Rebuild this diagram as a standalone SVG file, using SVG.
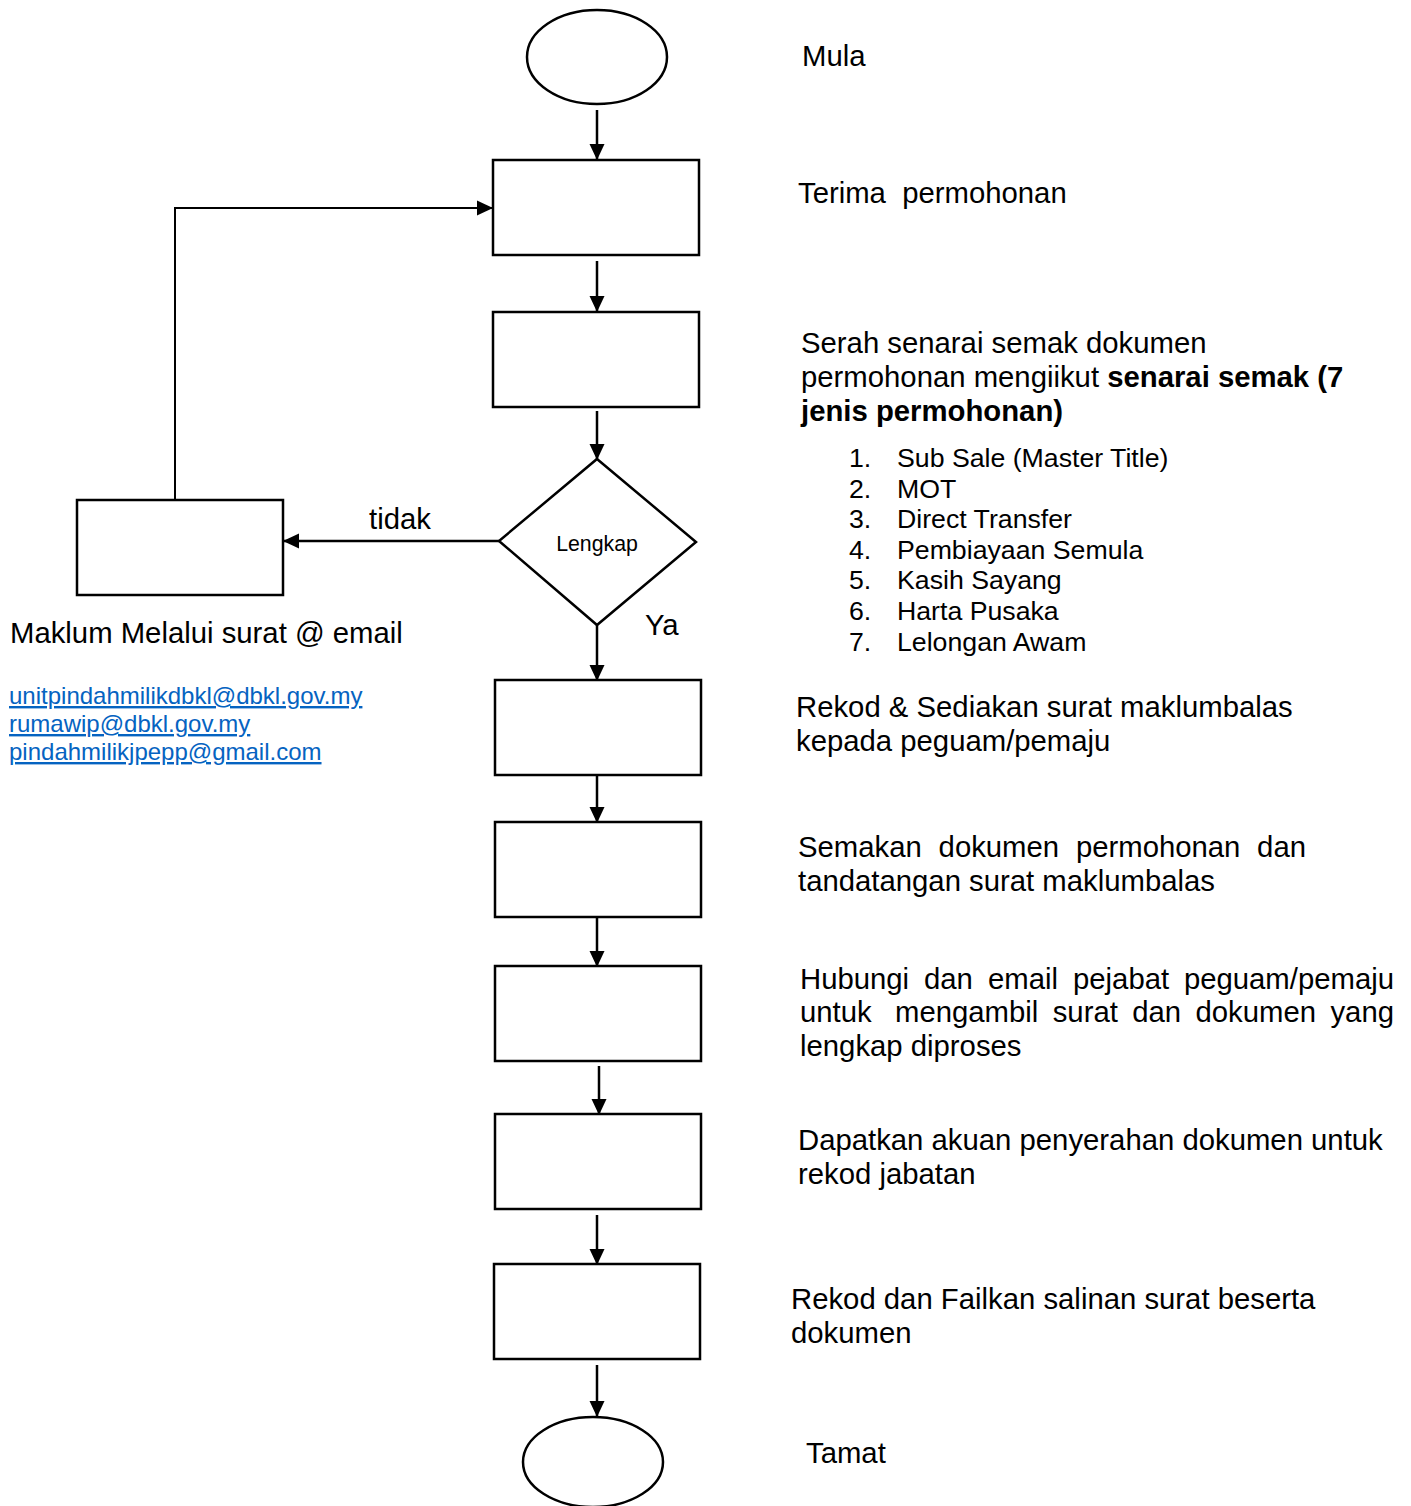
<svg xmlns="http://www.w3.org/2000/svg" width="1411" height="1506" viewBox="0 0 1411 1506">
<style>
.n{fill:#fff;stroke:#000;stroke-width:2.5}
.c{fill:none;stroke:#000;stroke-width:2.5}
.thin{stroke-width:2}
text{font-family:"Liberation Sans",Arial,sans-serif;fill:#000}
.t{font-size:29.3px}
.l{font-size:26.7px}
.s{font-size:21.3px}
.e{font-size:24px;fill:#0563C1;text-decoration:underline}
.b{font-weight:bold}
.r{text-anchor:end}
</style>
<defs>
<marker id="ah" markerUnits="userSpaceOnUse" markerWidth="16" markerHeight="16" viewBox="0 0 16 16" refX="15" refY="8" orient="auto">
<path d="M0,0.5 L16,8 L0,15.5 Z" fill="#000"/>
</marker>
</defs>
<rect width="1411" height="1506" fill="#fff"/>
<g id="connectors">
<line class="c" x1="597" y1="110" x2="597" y2="159" marker-end="url(#ah)"/>
<line class="c" x1="597" y1="261" x2="597" y2="311" marker-end="url(#ah)"/>
<line class="c" x1="597" y1="411" x2="597" y2="459" marker-end="url(#ah)"/>
<line class="c" x1="499" y1="541" x2="284" y2="541" marker-end="url(#ah)"/>
<polyline class="c thin" points="175,500 175,208 492,208" marker-end="url(#ah)"/>
<line class="c" x1="597" y1="625" x2="597" y2="680" marker-end="url(#ah)"/>
<line class="c" x1="597" y1="775" x2="597" y2="822" marker-end="url(#ah)"/>
<line class="c" x1="597" y1="917" x2="597" y2="966" marker-end="url(#ah)"/>
<line class="c" x1="599" y1="1066" x2="599" y2="1114" marker-end="url(#ah)"/>
<line class="c" x1="597" y1="1215" x2="597" y2="1264" marker-end="url(#ah)"/>
<line class="c" x1="597" y1="1365" x2="597" y2="1416" marker-end="url(#ah)"/>
</g>
<g id="mula">
<ellipse class="n" cx="597" cy="57" rx="70" ry="47"/>
<text class="t" x="802" y="66">Mula</text>
</g>
<g id="terima">
<rect class="n" x="493" y="160" width="206" height="95"/>
<text class="t" x="798" y="203" xml:space="preserve">Terima  permohonan</text>
</g>
<g id="serah">
<rect class="n" x="493" y="312" width="206" height="95"/>
<text class="t" x="801" y="353">Serah senarai semak dokumen</text>
<text class="t" x="801" y="387">permohonan mengiikut <tspan class="b">senarai semak (7</tspan></text>
<text class="t b" x="801" y="421">jenis permohonan)</text>
<text class="l" x="849" y="467">1.</text><text class="l" x="897" y="467">Sub Sale (Master Title)</text>
<text class="l" x="849" y="498">2.</text><text class="l" x="897" y="498">MOT</text>
<text class="l" x="849" y="528">3.</text><text class="l" x="897" y="528">Direct Transfer</text>
<text class="l" x="849" y="559">4.</text><text class="l" x="897" y="559">Pembiayaan Semula</text>
<text class="l" x="849" y="589">5.</text><text class="l" x="897" y="589">Kasih Sayang</text>
<text class="l" x="849" y="620">6.</text><text class="l" x="897" y="620">Harta Pusaka</text>
<text class="l" x="849" y="651">7.</text><text class="l" x="897" y="651">Lelongan Awam</text>
</g>
<g id="lengkap">
<polygon class="n" points="597,459 696,542 597,625 499,541"/>
<text class="s" x="597" y="551" text-anchor="middle">Lengkap</text>
<text class="t" x="369" y="529">tidak</text>
<text class="t" x="645" y="635">Ya</text>
</g>
<g id="maklum">
<rect class="n" x="77" y="500" width="206" height="95"/>
<text class="t" x="10" y="643">Maklum Melalui surat @ email</text>
<text class="e" x="9" y="704">unitpindahmilikdbkl@dbkl.gov.my</text>
<text class="e" x="9" y="732">rumawip@dbkl.gov.my</text>
<text class="e" x="9" y="760">pindahmilikjpepp@gmail.com</text>
</g>
<g id="rekod">
<rect class="n" x="495" y="680" width="206" height="95"/>
<text class="t" x="796" y="717">Rekod &amp; Sediakan surat maklumbalas</text>
<text class="t" x="796" y="751">kepada peguam/pemaju</text>
</g>
<g id="semakan">
<rect class="n" x="495" y="822" width="206" height="95"/>
<text class="t" x="798" y="857">Semakan</text>
<text class="t" x="938.6" y="857">dokumen</text>
<text class="t" x="1075.9" y="857">permohonan</text>
<text class="t r" x="1306" y="857">dan</text>
<text class="t" x="798" y="891">tandatangan surat maklumbalas</text>
</g>
<g id="hubungi">
<rect class="n" x="495" y="966" width="206" height="95"/>
<text class="t" x="800" y="989">Hubungi</text>
<text class="t" x="924" y="989">dan</text>
<text class="t" x="988" y="989">email</text>
<text class="t" x="1073" y="989">pejabat</text>
<text class="t r" x="1394" y="989">peguam/pemaju</text>
<text class="t" x="800" y="1022">untuk</text>
<text class="t" x="895" y="1022">mengambil</text>
<text class="t" x="1052.7" y="1022">surat</text>
<text class="t" x="1132.2" y="1022">dan</text>
<text class="t" x="1195.5" y="1022">dokumen</text>
<text class="t r" x="1394" y="1022">yang</text>
<text class="t" x="800" y="1056">lengkap diproses</text>
</g>
<g id="dapatkan">
<rect class="n" x="495" y="1114" width="206" height="95"/>
<text class="t" x="798" y="1150">Dapatkan akuan penyerahan dokumen untuk</text>
<text class="t" x="798" y="1184">rekod jabatan</text>
</g>
<g id="failkan">
<rect class="n" x="494" y="1264" width="206" height="95"/>
<text class="t" x="791" y="1309">Rekod dan Failkan salinan surat beserta</text>
<text class="t" x="791" y="1343">dokumen</text>
</g>
<g id="tamat">
<ellipse class="n" cx="593" cy="1462" rx="70" ry="45"/>
<text class="t" x="806" y="1463">Tamat</text>
</g>
</svg>
